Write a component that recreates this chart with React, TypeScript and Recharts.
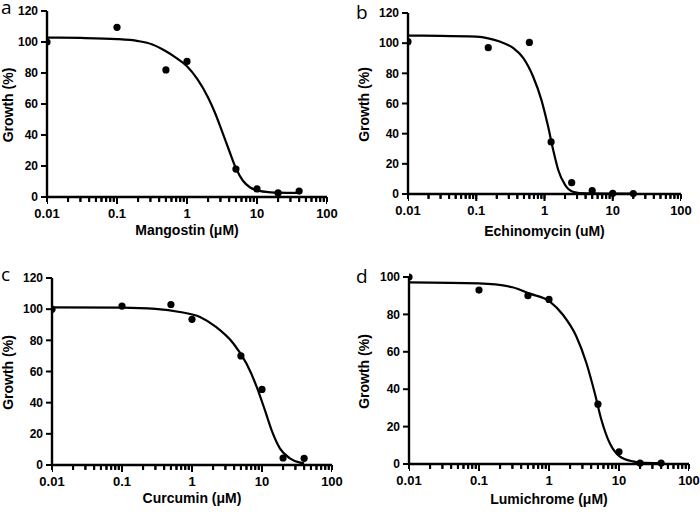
import React from 'react';
import { ComposedChart, Line, Scatter, XAxis, YAxis, Label } from 'recharts';

const FONT = '"Liberation Sans", Arial, Helvetica, sans-serif';

// x ticks on the log axis; only the decades carry a label
const MAJOR_TICKS = [0.01, 0.1, 1, 10, 100];
const MINOR_TICKS = [
  0.02, 0.03, 0.04, 0.05, 0.06, 0.07, 0.08, 0.09,
  0.2, 0.3, 0.4, 0.5, 0.6, 0.7, 0.8, 0.9,
  2, 3, 4, 5, 6, 7, 8, 9,
  20, 30, 40, 50, 60, 70, 80, 90,
];
const ALL_TICKS = [...MAJOR_TICKS, ...MINOR_TICKS].sort((a, b) => a - b);
const Y_TICKS_120 = [0, 20, 40, 60, 80, 100, 120];
const Y_TICKS_100 = [0, 20, 40, 60, 80, 100];

// a - Mangostin
const A_DOSE = [0.01, 0.1, 0.5, 1, 5, 10, 20, 40];
const A_GROWTH = [100, 109.5, 82, 87.5, 18, 5.2, 2.6, 3.8];
const A_FIT_X = [0.01, 0.03, 0.1, 0.2, 0.32, 0.5, 0.7, 1, 1.4, 2, 2.5, 3.16, 4, 5, 6.3, 7.9, 10, 16, 20, 40];
const A_FIT_Y = [102.8, 102.6, 101.9, 100.6, 98.4, 94, 89.8, 84.4, 76.2, 64.2, 54.5, 42.5, 30, 18.5, 10.5, 6.3, 4.3, 3, 2.8, 2.6];

// b - Echinomycin
const B_DOSE = [0.01, 0.15, 0.6, 1.25, 2.5, 5, 10, 20];
const B_GROWTH = [101, 97, 100.5, 34.5, 7.5, 2.2, 0.5, 0.3];
const B_FIT_X = [0.01, 0.03, 0.1, 0.15, 0.22, 0.35, 0.49, 0.68, 0.9, 1.13, 1.34, 1.59, 2, 2.6, 4, 20];
const B_FIT_Y = [105, 104.9, 104.3, 103.2, 101.1, 96.7, 90.1, 77.9, 62.4, 44.7, 29.2, 15.9, 6, 1.5, 0.4, 0.3];

// c - Curcumin
const C_DOSE = [0.01, 0.1, 0.5, 1, 5, 10, 20, 40];
const C_GROWTH = [100, 102, 103, 93.5, 70, 48.5, 4.5, 4.3];
const C_FIT_X = [0.01, 0.1, 0.3, 0.67, 1.3, 2.2, 3.9, 6, 8.4, 11, 13.7, 18, 25, 35, 40];
const C_FIT_Y = [101.2, 101, 100.2, 98.2, 95, 88.6, 78, 65.1, 50.2, 35.2, 22.4, 10.7, 4.3, 1.5, 1];

// d - Lumichrome
const D_DOSE = [0.01, 0.1, 0.5, 1, 5, 10, 20, 40];
const D_GROWTH = [100, 93, 90, 88, 32, 6.5, 0.5, 0.5];
const D_FIT_X = [0.01, 0.1, 0.3, 0.53, 1.02, 1.58, 2.46, 3.42, 4.5, 5.6, 7.36, 10.2, 15.8, 20, 40];
const D_FIT_Y = [97.1, 96.6, 94.5, 91.1, 87, 79.8, 68.2, 54, 38, 23.7, 11.2, 4.1, 1.4, 0.8, 0.5];

const toPoints = (xs: number[], ys: number[]) => xs.map((x, i) => ({ x, y: ys[i] }));
const decadeLabel = (v: number) => (MAJOR_TICKS.includes(v) ? String(v) : '');
const tickSeries = ALL_TICKS.map((x) => ({ x, y: 0 }));

// tick marks under the x axis, one per log tick
const TickMark = (s: any) => {
  const major = MAJOR_TICKS.includes(s.payload?.x);
  return <rect x={s.cx - 1} y={s.cy} width={2} height={major ? 7 : 4.5} fill="#000" />;
};

const growthTitle = (cx: number) => (props: any) => {
  const vb = props.viewBox || { y: 0, height: 0 };
  const cy = vb.y + vb.height / 2 + 1;
  return (
    <text
      x={cx}
      y={cy}
      transform={`rotate(-90 ${cx} ${cy})`}
      textAnchor="middle"
      dominantBaseline="central"
      fontSize={14}
      fontWeight={700}
      fontFamily={FONT}
      fill="#000"
    >
      Growth (%)
    </text>
  );
};

interface PanelProps {
  left: number;
  top: number;
  margin: { top: number; right: number; bottom: number; left: number };
  yWidth: number;
  xHeight: number;
  titleOffset: number;
  yTitleX: number;
  title: string;
  dose: number[];
  growth: number[];
  fitX: number[];
  fitY: number[];
  yTicks: number[];
}

function Panel(p: PanelProps) {
  const yMax = p.yTicks[p.yTicks.length - 1];
  return (
    <div style={{ position: 'absolute', left: p.left, top: p.top }}>
      <ComposedChart width={350} height={256} margin={p.margin}>
        <XAxis
          dataKey="x"
          type="number"
          scale="log"
          domain={[0.01, 100]}
          allowDataOverflow
          ticks={ALL_TICKS}
          interval={0}
          tickFormatter={decadeLabel}
          height={p.xHeight}
          tickSize={5}
          tickMargin={7}
          stroke="#000"
          axisLine={{ stroke: '#000', strokeWidth: 2.4 }}
          tickLine={{ stroke: '#000', strokeWidth: 2 }}
          tick={{ fill: '#000', fontSize: 13, fontWeight: 700, fontFamily: FONT }}
        >
          <Label
            value={p.title}
            position="insideBottom"
            offset={p.titleOffset}
            fill="#000"
            fontSize={14}
            fontWeight={700}
            fontFamily={FONT}
          />
        </XAxis>
        <YAxis
          dataKey="y"
          type="number"
          domain={[0, yMax]}
          ticks={p.yTicks}
          interval={0}
          width={p.yWidth}
          tickSize={6}
          tickMargin={3}
          stroke="#000"
          axisLine={{ stroke: '#000', strokeWidth: 2.4 }}
          tickLine={{ stroke: '#000', strokeWidth: 2 }}
          tick={{ fill: '#000', fontSize: 12, fontWeight: 700, fontFamily: FONT }}
        >
          <Label content={growthTitle(p.yTitleX)} />
        </YAxis>
        <Scatter data={tickSeries} dataKey="y" isAnimationActive={false} shape={TickMark} />
        <Line
          data={toPoints(p.fitX, p.fitY)}
          dataKey="y"
          type="monotone"
          stroke="#000"
          strokeWidth={2.2}
          dot={false}
          activeDot={false}
          isAnimationActive={false}
        />
        <Scatter
          data={toPoints(p.dose, p.growth)}
          dataKey="y"
          fill="#000"
          isAnimationActive={false}
          shape={(s: any) => <circle cx={s.cx} cy={s.cy} r={3.6} fill="#000" />}
        />
      </ComposedChart>
    </div>
  );
}

export default function App() {
  return (
    <div style={{ position: 'absolute', left: 0, top: 0, width: 700, height: 512, background: '#fff' }}>
      <Panel
        left={0}
        top={0}
        margin={{ top: 11, right: 23, bottom: 0, left: 0 }}
        yWidth={47}
        xHeight={59}
        titleOffset={21}
        yTitleX={7.5}
        title="Mangostin (μM)"
        dose={A_DOSE}
        growth={A_GROWTH}
        fitX={A_FIT_X}
        fitY={A_FIT_Y}
        yTicks={Y_TICKS_120}
      />
      <Panel
        left={350}
        top={0}
        margin={{ top: 13, right: 19, bottom: 0, left: 0 }}
        yWidth={58}
        xHeight={62}
        titleOffset={20}
        yTitleX={14}
        title="Echinomycin (uM)"
        dose={B_DOSE}
        growth={B_GROWTH}
        fitX={B_FIT_X}
        fitY={B_FIT_Y}
        yTicks={Y_TICKS_120}
      />
      <Panel
        left={0}
        top={256}
        margin={{ top: 22, right: 18, bottom: 0, left: 0 }}
        yWidth={52}
        xHeight={47}
        titleOffset={9}
        yTitleX={8}
        title="Curcumin (μM)"
        dose={C_DOSE}
        growth={C_GROWTH}
        fitX={C_FIT_X}
        fitY={C_FIT_Y}
        yTicks={Y_TICKS_120}
      />
      <Panel
        left={350}
        top={256}
        margin={{ top: 21, right: 11, bottom: 0, left: 0 }}
        yWidth={59}
        xHeight={48}
        titleOffset={8}
        yTitleX={14}
        title="Lumichrome (μM)"
        dose={D_DOSE}
        growth={D_GROWTH}
        fitX={D_FIT_X}
        fitY={D_FIT_Y}
        yTicks={Y_TICKS_100}
      />
      <svg
        width={700}
        height={512}
        style={{ position: 'absolute', left: 0, top: 0, pointerEvents: 'none' }}
      >
        <g fontFamily='"Open Sans", "Noto Sans", sans-serif' fontSize={19} fill="#000">
          <text x={1} y={14}>a</text>
          <text x={356} y={19}>b</text>
          <text x={1} y={281}>c</text>
          <text x={356} y={283}>d</text>
        </g>
      </svg>
    </div>
  );
}
